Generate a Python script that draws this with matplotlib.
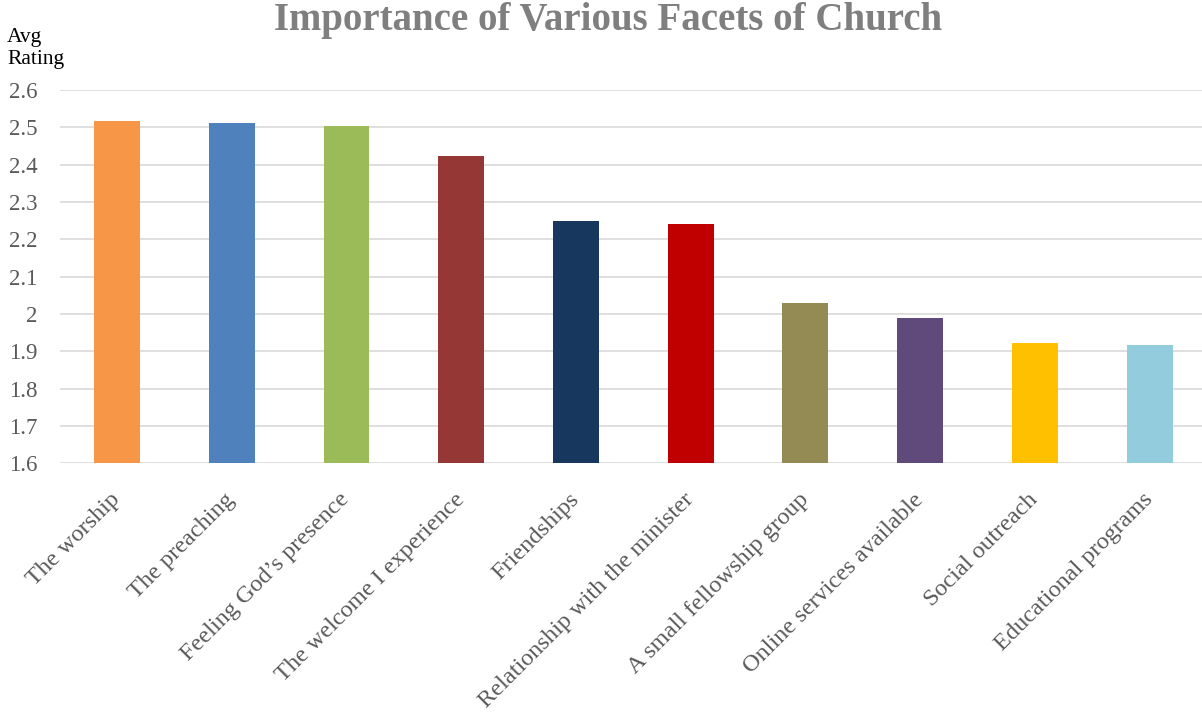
import matplotlib.pyplot as plt

# Data
facets = ['The worship', 'The preaching', 'Feeling God\u2019s presence',
          'The welcome I experience', 'Friendships',
          'Relationship with the minister', 'A small fellowship group',
          'Online services available', 'Social outreach', 'Educational programs']
ratings = [2.517, 2.512, 2.504, 2.423, 2.249, 2.241, 2.029, 1.989, 1.922, 1.917]
colors = ['#F79646', '#4F81BD', '#9BBB59', '#953735', '#17375E',
          '#C00000', '#948A54', '#604A7B', '#FFC000', '#93CDDD']
yticks = [1.6, 1.7, 1.8, 1.9, 2.0, 2.1, 2.2, 2.3, 2.4, 2.5, 2.6]
ytick_labels = ['1.6', '1.7', '1.8', '1.9', '2', '2.1', '2.2', '2.3', '2.4', '2.5', '2.6']

plt.rcParams['font.family'] = ['Liberation Serif', 'DejaVu Serif']

fig = plt.figure(figsize=(12.02, 7.15), dpi=100)
ax = fig.add_axes([0.0496, 0.352, 0.9545, 0.522])

x = list(range(len(facets)))
ax.bar(x, ratings, width=0.4, color=colors, zorder=3)

ax.set_xlim(-0.5, len(facets) - 0.5)
ax.set_ylim(1.6, 2.6)
ax.set_yticks(yticks)
ax.set_yticklabels(ytick_labels, fontsize=16.5, color='#595959')
ax.set_xticks(x)
ax.set_xticklabels(facets, rotation=45, ha='right', va='center',
                   rotation_mode='anchor', fontsize=17.5, color='#595959')
ax.tick_params(axis='both', length=0)
ax.tick_params(axis='y', pad=16)
ax.tick_params(axis='x', pad=24)

ax.grid(axis='y', color='#D9D9D9', linewidth=1.2, zorder=0)
for s in ax.spines.values():
    s.set_visible(False)

fig.text(0.506, 0.972, 'Importance of Various Facets of Church', ha='center', va='center',
         fontsize=28, fontweight='bold', color='#7F7F7F')
fig.text(0.006, 0.932, 'Avg\nRating', ha='left', va='center', fontsize=15.5,
         color='black', linespacing=1.2)

fig.savefig('out.png', dpi=100)
